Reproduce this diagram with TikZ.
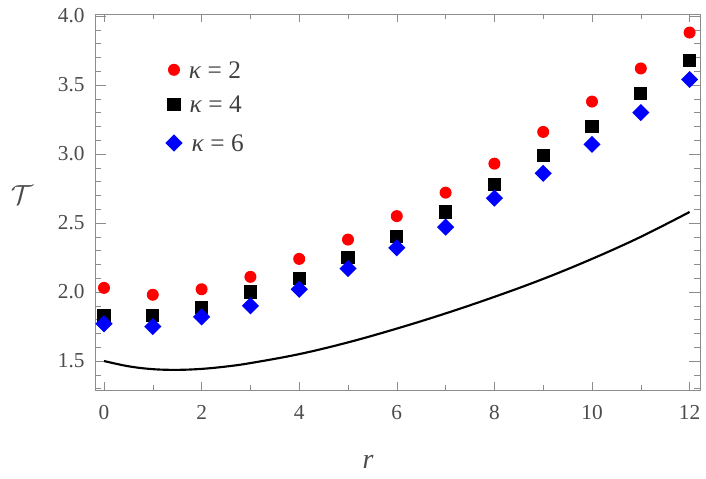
\documentclass[tikz,border=0pt]{standalone}
\usepackage{fontspec}
\setmainfont{Liberation Serif}
\usepackage{amsmath}
\usetikzlibrary{shapes.geometric}
\tikzset{
  redpt/.style={circle, fill=red, inner sep=0pt, minimum size=9pt},
  blackpt/.style={rectangle, fill=black, inner sep=0pt, minimum size=10pt},
  bluept/.style={diamond, fill=blue, inner sep=0pt, minimum width=13pt, minimum height=13pt},
  ticklab/.style={font=\fontsize{16}{16}\selectfont, text=black!70}
}
\begin{document}
\begin{tikzpicture}[x=36.6pt, y=103.5pt]
\useasboundingbox (-2.131,0.652) rectangle (12.336,4.116);
% frame
\draw[black!45] (-0.184,1.29) rectangle (12.21,4.014);
% ticks
\foreach \x in {0,2,...,12} {
  \draw[black!45] (\x,1.29) -- ++(0,0.06);
  \draw[black!45] (\x,4.014) -- ++(0,-0.06);
  \node[ticklab, name=xl\x] at (\x,1.13) {\x};
}
\foreach \x in {1,3,...,11} {
  \draw[black!45] (\x,1.29) -- ++(0,0.035);
  \draw[black!45] (\x,4.014) -- ++(0,-0.035);
}
\foreach \y/\t in {1.5/1.5,2/2.0,2.5/2.5,3/3.0,3.5/3.5,4/4.0} {
  \draw[black!45] (-0.184,\y) -- ++(0.22,0);
  \draw[black!45] (12.21,\y) -- ++(-0.22,0);
  \node[ticklab, anchor=east, name=yl] at (-0.3,\y) {\t};
}
\foreach \y in {1.3,1.4,1.6,1.7,1.8,1.9,2.1,2.2,2.3,2.4,2.6,2.7,2.8,2.9,3.1,3.2,3.3,3.4,3.6,3.7,3.8,3.9} {
  \draw[black!45] (-0.184,\y) -- ++(0.13,0);
  \draw[black!45] (12.21,\y) -- ++(-0.13,0);
}
% axis labels
\node[font=\fontsize{21}{21}\selectfont\itshape, text=black!70, name=rlab] at (5.41,0.77) {r};
\node[font=\fontsize{21}{21}\selectfont, text=black!70, name=tlab] at (-1.68,2.70) {$\mathcal{T}$};
% curve
\draw[line width=1.6pt] plot[smooth, tension=0.6] coordinates {(0,1.50) (0.5,1.462) (1,1.441) (1.5,1.436) (2,1.443) (2.5,1.46) (3,1.485) (4,1.55) (5,1.635) (6,1.735) (7,1.845) (8,1.965) (9,2.095) (10,2.24) (11,2.40) (12,2.58)};
% data
\foreach \v [count=\i from 0] in {2.03,1.98,2.02,2.11,2.24,2.38,2.55,2.72,2.93,3.16,3.38,3.62,3.88}
  \node[redpt, name=r\i] at (\i,\v) {};
\foreach \v [count=\i from 0] in {1.83,1.83,1.89,2.00,2.10,2.25,2.40,2.58,2.78,2.99,3.20,3.44,3.68}
  \node[blackpt, name=k\i] at (\i,\v) {};
\foreach \v [count=\i from 0] in {1.77,1.75,1.82,1.90,2.02,2.17,2.32,2.47,2.68,2.86,3.07,3.30,3.54}
  \node[bluept, name=b\i] at (\i,\v) {};
% legend
\node[redpt, name=lg1] at (1.434,3.61) {};
\node[blackpt, name=lg2] at (1.434,3.36) {};
\node[bluept, name=lg3] at (1.434,3.08) {};
\foreach \n/\k in {1/2,2/4,3/6}
  \node[anchor=west, font=\fontsize{19}{19}\selectfont, text=black!75, name=lt\n] at ([xshift=3pt]lg\n.east) {\textit{κ} = \k};
\end{tikzpicture}
\end{document}
